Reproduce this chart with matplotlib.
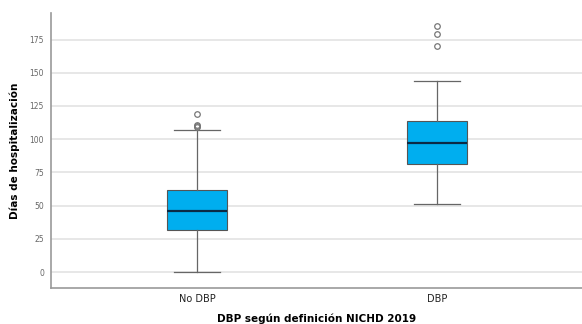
import matplotlib
matplotlib.use("Agg")
from matplotlib import pyplot as plt

# values
groups = ["No DBP", "DBP"]
q1 = [32, 81]
median = [46, 97.5]
q3 = [62, 114]
whislo = [0, 51]
whishi = [107, 144]
fliers = [[109, 110, 111, 119], [170.5, 179.5, 185.5]]
yticks = [0, 25, 50, 75, 100, 125, 150, 175]

stats = []
for i in range(len(groups)):
    stats.append(dict(label=groups[i], q1=q1[i], med=median[i], q3=q3[i],
                      whislo=whislo[i], whishi=whishi[i], fliers=fliers[i]))

fig = plt.figure(figsize=(5.82, 3.24), dpi=100)
ax = fig.add_axes([0.0876, 0.111, 0.9124, 0.849])

ax.bxp(stats, positions=[0, 1], widths=0.25, patch_artist=True,
       boxprops=dict(facecolor="#00AEEF", edgecolor="#555555", linewidth=0.8),
       medianprops=dict(color="#0b2a45", linewidth=1.6),
       whiskerprops=dict(color="#666666", linewidth=0.9),
       capprops=dict(color="#666666", linewidth=0.9),
       capwidths=0.19,
       flierprops=dict(marker="o", markersize=4, markerfacecolor="none",
                       markeredgecolor="#777777", markeredgewidth=0.9),
       zorder=3)

ax.set_xlim(-0.608, 1.604)
ax.set_ylim(-12, 195)
ax.set_yticks(yticks)
ax.yaxis.grid(True, color="#e0e0e0", linewidth=1.1, zorder=0)
ax.set_axisbelow(True)
ax.tick_params(axis="y", length=0, labelsize=5.5, labelcolor="#666666", pad=5)
ax.tick_params(axis="x", length=0, labelsize=7, labelcolor="#222222", pad=4)

for s in ["top", "right"]:
    ax.spines[s].set_visible(False)
for s in ["left", "bottom"]:
    ax.spines[s].set_color("#999999")
    ax.spines[s].set_linewidth(1.2)

ax.set_ylabel("Días de hospitalización", fontsize=7.5, fontweight="bold", labelpad=7)
ax.set_xlabel("DBP según definición NICHD 2019", fontsize=7.5, fontweight="bold", labelpad=7)

fig.savefig("out.png", dpi=100)
